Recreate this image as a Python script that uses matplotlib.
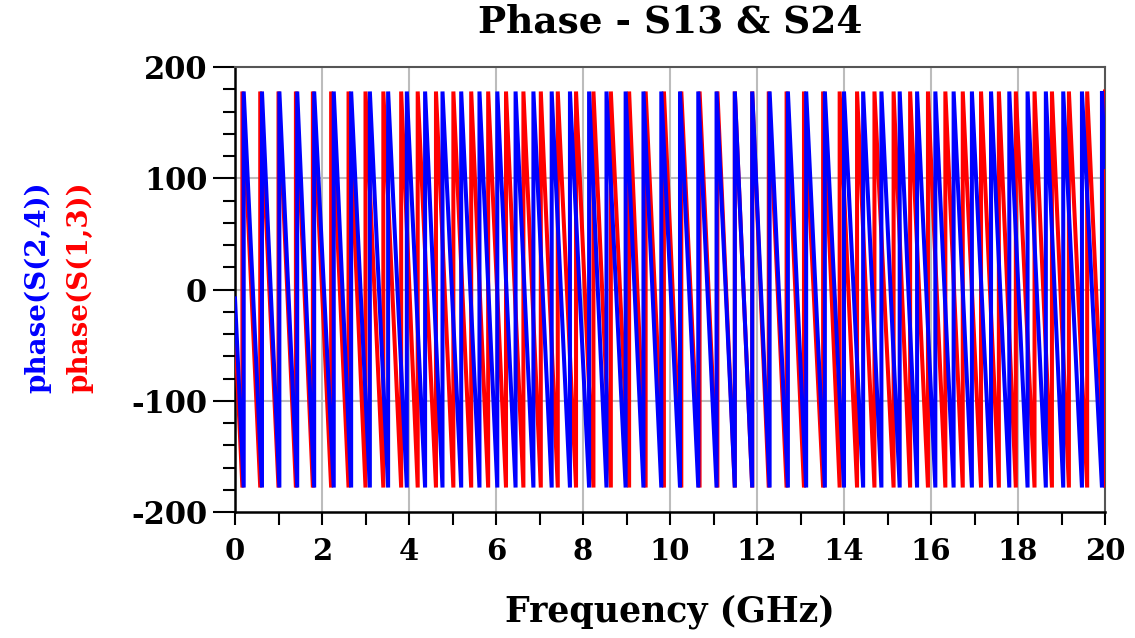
import matplotlib
matplotlib.use("Agg")
import matplotlib.pyplot as plt
from matplotlib.ticker import MultipleLocator

# ---- data (frequencies in GHz, phase in degrees) ----
# frequencies at which each phase trace wraps from -180 to +180
s24_wrap_freqs = [0.20, 0.62, 1.02, 1.43, 1.82, 2.27, 2.67, 3.10, 3.52, 3.95,
                  4.37, 4.77, 5.20, 5.62, 6.03, 6.45, 6.86, 7.28, 7.70, 8.14,
                  8.54, 8.98, 9.39, 9.80, 10.23, 10.65, 11.07, 11.49, 11.89, 12.29,
                  12.71, 13.13, 13.56, 14.00, 14.44, 14.86, 15.28, 15.68, 16.10, 16.52,
                  16.94, 17.38, 17.80, 18.22, 18.64, 19.04, 19.47, 19.93]
s13_wrap_freqs = [0.17, 0.58, 1.00, 1.40, 1.79, 2.21, 2.61, 3.00, 3.41, 3.82,
                  4.20, 4.62, 5.02, 5.43, 5.82, 6.23, 6.63, 7.03, 7.42, 7.84,
                  8.24, 8.64, 9.06, 9.44, 9.86, 10.26, 10.68, 11.09, 11.49, 11.89,
                  12.27, 12.68, 13.08, 13.52, 13.90, 14.30, 14.70, 15.14, 15.52, 15.93,
                  16.33, 16.73, 17.15, 17.56, 17.95, 18.38, 18.78, 19.17, 19.59, 20.00]
s24_start_phase = -8.0
s13_start_phase = -35.0
s24_end_phase = 110.0
s13_end_phase = None
phase_top = 178.0
phase_bottom = -178.0
f_start, f_stop = 0.0, 20.0

x_tick_labels = ["0", "2", "4", "6", "8", "10", "12", "14", "16", "18", "20"]
y_tick_labels = ["-200", "-100", "0", "100", "200"]


def trace(start_phase, wraps, end_phase):
    f = [f_start]
    p = [start_phase]
    for w in wraps:
        f += [w, w]
        p += [phase_bottom, phase_top]
    if end_phase is not None:
        f.append(f_stop)
        p.append(end_phase)
    return f, p


W, H = 1135, 638
fig = plt.figure(figsize=(W / 100, H / 100), dpi=100)
ax = fig.add_axes([235 / W, 1 - 512 / H, (1105 - 235) / W, (512 - 67) / H])

f13, p13 = trace(s13_start_phase, s13_wrap_freqs, s13_end_phase)
f24, p24 = trace(s24_start_phase, s24_wrap_freqs, s24_end_phase)
ax.plot(f13, p13, color="#ff0000", lw=2.9, solid_joinstyle="miter", zorder=3)
ax.plot(f24, p24, color="#0000ff", lw=2.9, solid_joinstyle="miter", zorder=4)

ax.set_xlim(0, 20)
ax.set_ylim(-200, 200)

font = "DejaVu Serif"
ax.set_xticks([float(t) for t in x_tick_labels])
ax.set_xticklabels(x_tick_labels, fontfamily=font, fontweight="bold", fontsize=21)
ax.set_yticks([float(t) for t in y_tick_labels])
ax.set_yticklabels(y_tick_labels, fontfamily=font, fontweight="bold", fontsize=22)
ax.xaxis.set_minor_locator(MultipleLocator(1))
ax.yaxis.set_minor_locator(MultipleLocator(20))
ax.tick_params(axis="y", which="major", direction="out", length=16, width=1.5, pad=4, color="black")
ax.tick_params(axis="y", which="minor", direction="out", length=9, width=1.5, color="black")
ax.tick_params(axis="x", which="major", direction="out", length=9, width=1.5, pad=9, color="black")
ax.tick_params(axis="x", which="minor", direction="out", length=9, width=1.5, color="black")

for x in range(2, 20, 2):
    ax.axvline(x, color="#bcbcbc", lw=1.5, zorder=1)
for y in (-100, 0, 100):
    ax.axhline(y, color="#bcbcbc", lw=1.5, zorder=1)

ax.spines["left"].set_color("black")
ax.spines["bottom"].set_color("black")
ax.spines["left"].set_linewidth(1.8)
ax.spines["bottom"].set_linewidth(1.8)
ax.spines["top"].set_color("#555555")
ax.spines["right"].set_color("#555555")
ax.spines["top"].set_linewidth(1.5)
ax.spines["right"].set_linewidth(1.5)

fig.text(670 / W, 1 - 22 / H, "Phase - S13 & S24", ha="center", va="center",
         fontfamily=font, fontweight="bold", fontsize=27)
fig.text(670 / W, 1 - 612 / H, "Frequency (GHz)", ha="center", va="center",
         fontfamily=font, fontweight="bold", fontsize=25)
fig.text(38 / W, 1 - 287 / H, "phase(S(2,4))", ha="center", va="center", rotation=90,
         color="#0000ff", fontfamily=font, fontweight="bold", fontsize=20)
fig.text(80 / W, 1 - 287 / H, "phase(S(1,3))", ha="center", va="center", rotation=90,
         color="#ff0000", fontfamily=font, fontweight="bold", fontsize=20)

fig.savefig("out.png", dpi=100, facecolor="white")
